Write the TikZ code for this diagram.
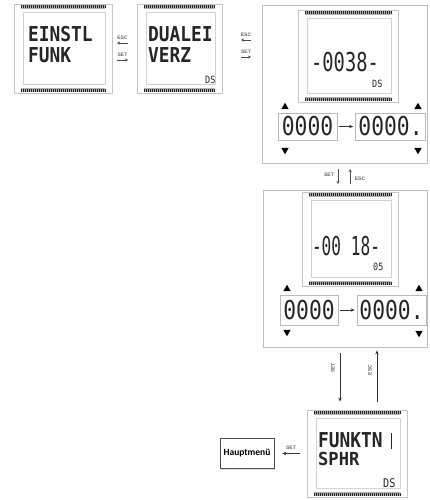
\documentclass[tikz,border=0pt]{standalone}
\usepackage{fontspec}
\usepackage{graphicx}
\usetikzlibrary{arrows.meta,calc,fit,shadows,shapes.geometric}
\newfontfamily\lcdf{DejaVu Sans Mono}
\newfontfamily\hmf{Carlito}
\newfontfamily\tinyf{Liberation Sans}
\newcommand\lt[3]{\scalebox{#2}[1]{\fontsize{#1}{#1}\selectfont #3}}
\tikzset{
  bigframe/.style={draw=gray!50, line width=0.8pt, inner sep=0pt},
  lcdframe/.style={draw=gray!45, line width=0.8pt, inner sep=0pt},
  barfill/.style={fill=gray!60},
  bar/.style={line width=3.2pt, dash pattern=on 1.3pt off 0.7pt, draw=black!85},
  scr/.style={draw=gray!35, line width=0.6pt},
  lcdtxt/.style={font=\lcdf, text=black!85, inner sep=0pt, anchor=base west},
  lcdtxtc/.style={font=\lcdf, text=black!85, inner sep=0pt, anchor=base},
  smallbox/.style={draw=gray!55, line width=0.8pt, inner sep=0pt, font=\lcdf, text=black!85},
  triup/.style={regular polygon, regular polygon sides=3, fill=black, minimum size=8.5pt, inner sep=0pt},
  tridown/.style={triup, shape border rotate=180},
  tiny/.style={font=\tinyf\bfseries\fontsize{5}{5}\selectfont, text=black!60, inner sep=0pt},
  conn/.style={line width=0.9pt, draw=black!80, -{Stealth[length=4pt,width=3.5pt]}},
  sconn/.style={line width=0.8pt, draw=black!70, -{Stealth[length=3pt,width=3pt]}},
  hmbox/.style={draw=black!70, line width=0.8pt, fill=white, drop shadow={shadow xshift=1pt, shadow yshift=-1pt, fill=gray!50}, minimum width=54pt, minimum height=30pt, inner sep=0pt, font=\hmf\bfseries\fontsize{9.5}{10}\selectfont}
}
\newcommand\lcddeco[1]{%
  \fill[barfill] ($(#1.north west)+(7,1)$) rectangle ($(#1.north east)+(-7,5)$);
  \draw[bar] ($(#1.north west)+(7,3)$) -- ($(#1.north east)+(-7,3)$);
  \fill[barfill] ($(#1.south west)+(7,-1)$) rectangle ($(#1.south east)+(-7,-5)$);
  \draw[bar] ($(#1.south west)+(7,-3)$) -- ($(#1.south east)+(-7,-3)$);
  \draw[scr] ($(#1.north west)+(10,9)$) rectangle ($(#1.south east)+(-7,-9)$);
}
\begin{document}
\begin{tikzpicture}[x=1pt,y=-1pt]
\useasboundingbox (0,0) rectangle (429,500);

% LCD 1
\node[lcdframe, fit={(14,4) (112,93)}] (lcdA) {};
\lcddeco{lcdA}
\node[lcdtxt] (tA1) at (28,42) {\lt{20.5}{0.87}{\bfseries EINSTL}};
\node[lcdtxt] (tA2) at (28,63) {\lt{20.5}{0.87}{\bfseries FUNK}};

% arrows LCD1 <-> LCD2
\coordinate (a1l) at (117,43); \coordinate (a1r) at (128,43);
\coordinate (a2l) at (117,60); \coordinate (a2r) at (128,60);
\draw[sconn] (a1r) -- (a1l);
\draw[sconn] (a2l) -- (a2r);
\node[tiny] (e1) at (122.5,38) {ESC};
\node[tiny] (s1) at (122.5,55) {SET};

% LCD 2
\node[lcdframe, fit={(137,4) (222,93)}] (lcdB) {};
\lcddeco{lcdB}
\node[lcdtxt] (tB1) at (148,42) {\lt{20.5}{0.87}{\bfseries DUALEI}};
\node[lcdtxt] (tB2) at (148,63) {\lt{20.5}{0.87}{\bfseries VERZ}};
\node[lcdtxt] (tB3) at (205,84) {\lt{10}{0.85}{DS}};

% arrows LCD2 <-> box 1
\coordinate (b1l) at (241,40); \coordinate (b1r) at (251,40);
\coordinate (b2l) at (241,57); \coordinate (b2r) at (251,57);
\draw[sconn] (b1r) -- (b1l);
\draw[sconn] (b2l) -- (b2r);
\node[tiny] (e2) at (246,35) {ESC};
\node[tiny] (s2) at (246,52) {SET};

% Box 1
\node[bigframe, fit={(262,5) (427.5,163)}] (boxA) {};
\node[lcdframe, fit={(298,10) (398,102)}] (lcdC) {};
\lcddeco{lcdC}
\node[lcdtxtc] (tC1) at (345,72) {\lt{26}{0.72}{-0038-}};
\node[lcdtxt] (tC2) at (372,88) {\lt{10}{0.85}{DS}};
\node[smallbox, minimum width=59pt, minimum height=27pt] (sA1) at (307.5,126.5) {\lt{26}{0.82}{0000}};
\node[smallbox, minimum width=70pt, minimum height=27pt] (sA2) at (390.5,126.5) {\lt{26}{0.82}{0000.}};
\draw[conn, line width=0.8pt, shorten <=2pt, shorten >=2pt] (sA1) -- (sA2);
\node[triup] (uA1) at (285,107) {};
\node[tridown] (dA1) at (285,150) {};
\node[triup] (uA2) at (418,107) {};
\node[tridown] (dA2) at (418,150) {};

% between boxes
\coordinate (m1t) at (338,169); \coordinate (m1b) at (338,184);
\coordinate (m2t) at (350,169); \coordinate (m2b) at (350,184);
\draw[sconn] (m1t) -- (m1b);
\draw[sconn] (m2b) -- (m2t);
\node[tiny] (s3) at (329,175) {SET};
\node[tiny] (e3) at (360,179) {ESC};

% Box 2
\node[bigframe, fit={(263,190) (427.5,347)}] (boxB) {};
\node[lcdframe, fit={(302,192) (398,286)}] (lcdD) {};
\lcddeco{lcdD}
\node[lcdtxtc] (tD1) at (346,255) {\lt{26}{0.62}{-00 18-}};
\node[lcdtxt] (tD2) at (373,270) {\lt{10}{0.85}{05}};
\node[smallbox, minimum width=58pt, minimum height=30pt] (sB1) at (309,310) {\lt{26}{0.82}{0000}};
\node[smallbox, minimum width=69pt, minimum height=30pt] (sB2) at (391.5,310) {\lt{26}{0.82}{0000.}};
\draw[conn, line width=0.8pt, shorten <=2pt, shorten >=2pt] (sB1) -- (sB2);
\node[triup] (uB1) at (287,289) {};
\node[tridown] (dB1) at (287,332) {};
\node[triup] (uB2) at (419,289) {};
\node[tridown] (dB2) at (419,333) {};

% LCD FUNKTN
\node[lcdframe, fit={(307,410) (407,497)}] (lcdE) {};
\lcddeco{lcdE}
\node[lcdtxt] (tE1) at (318,447) {\lt{20.5}{0.87}{\bfseries FUNKTN}};
\node[lcdtxt] (tE2) at (318,465) {\lt{18}{0.95}{\bfseries SPHR}};
\draw[black!85, line width=1pt] (391,433) -- (391,449);
\node[lcdtxt] (tE3) at (383,487) {\lt{12}{0.85}{DS}};

% vertical connectors
\coordinate (xL) at (340,380); \coordinate (xR) at (377,380);
\draw[conn, shorten <=6pt, shorten >=8pt] (boxB.south -| xL) -- (lcdE.north -| xL);
\draw[conn, shorten <=8pt, shorten >=3pt] (lcdE.north -| xR) -- (boxB.south -| xR);
\node[tiny, rotate=90] (s4) at (333,368) {SET};
\node[tiny, rotate=90] (e4) at (370,370) {ESC};

% Hauptmenue
\node[hmbox] (hm) at (247,453.5) {Hauptmenü};
\draw[conn, shorten <=7pt, shorten >=8pt] (lcdE.west) -- (hm.east);
\node[tiny] (s5) at (291,448) {SET};
\end{tikzpicture}
\end{document}
